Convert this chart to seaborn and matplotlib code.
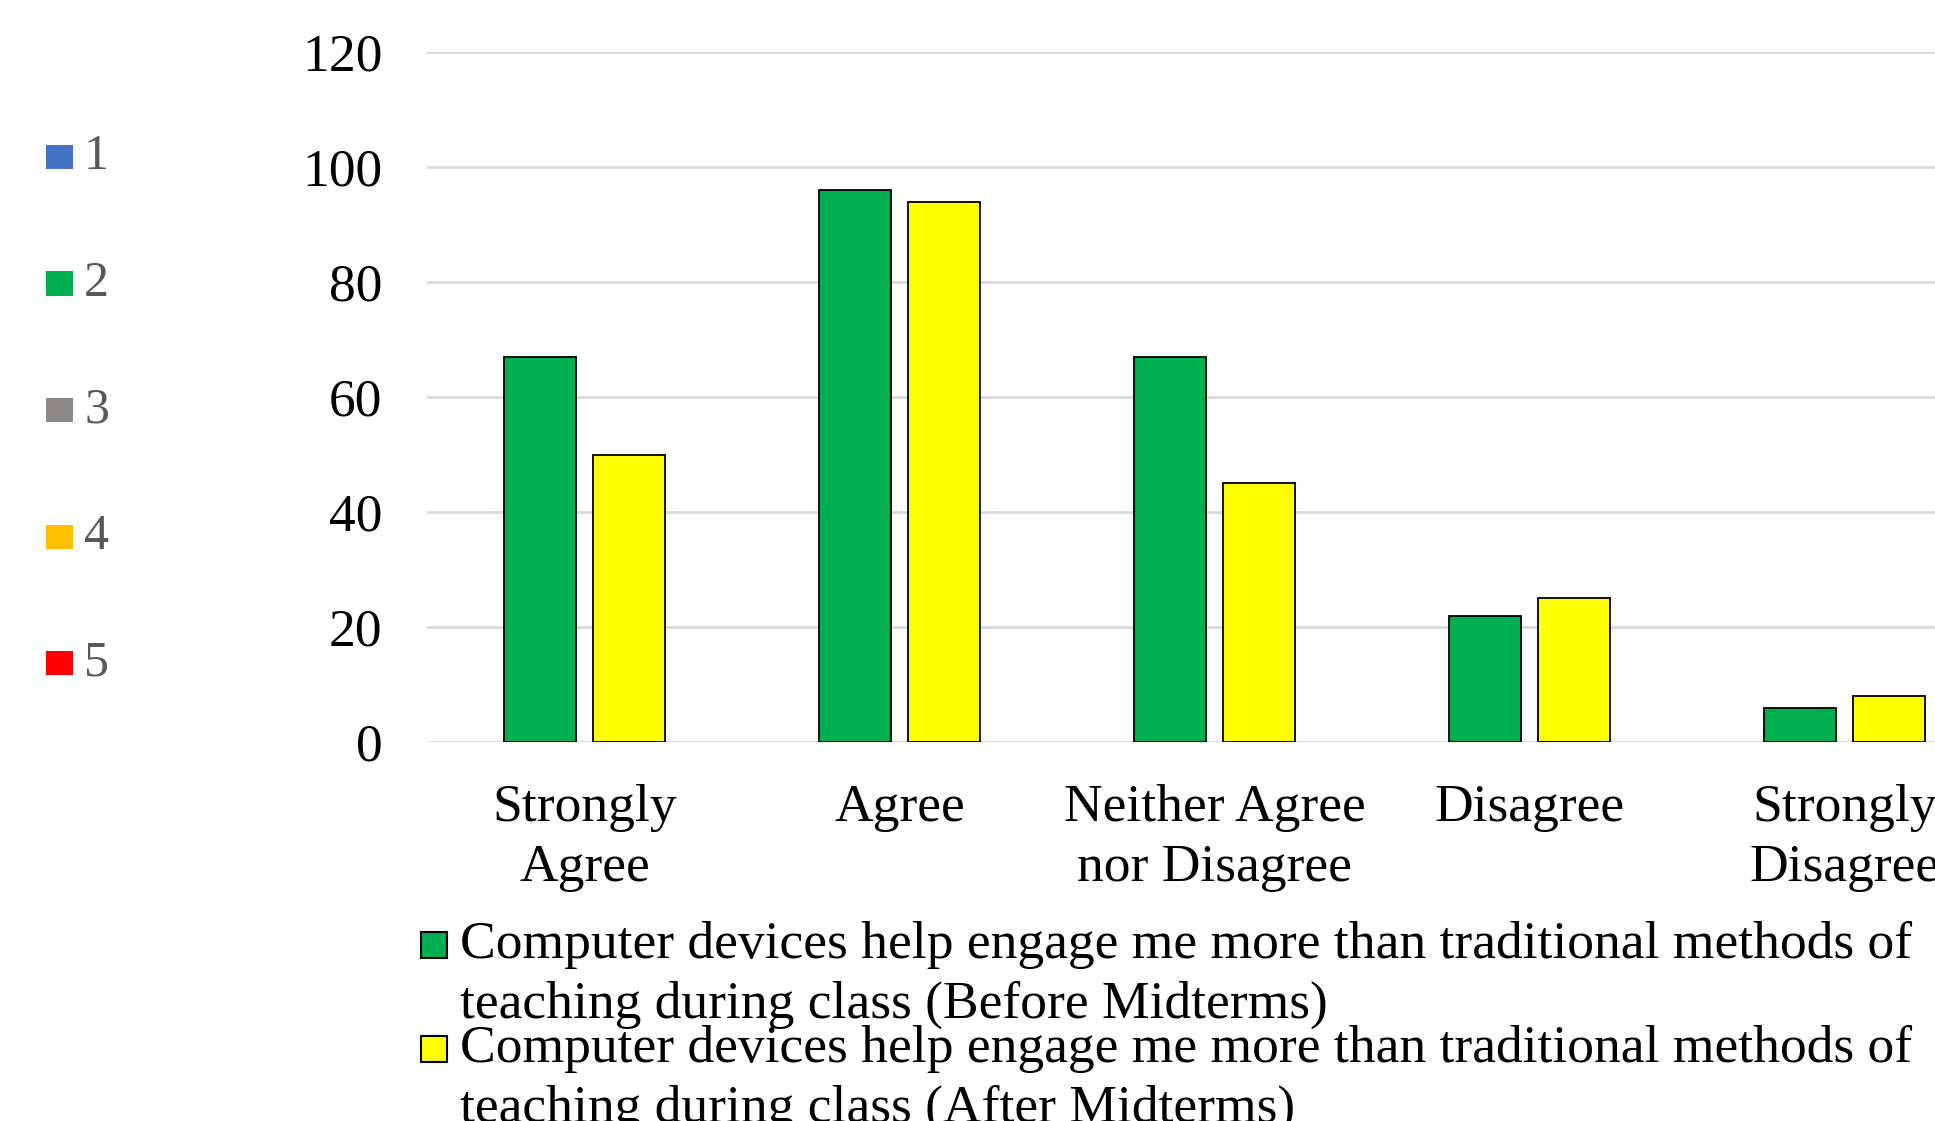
import matplotlib
matplotlib.use("Agg")
import matplotlib.pyplot as plt
import seaborn as sns
import pandas as pd
from matplotlib.patches import Rectangle

categories = ["Strongly\nAgree", "Agree", "Neither Agree\nnor Disagree", "Disagree", "Strongly\nDisagree"]
before = [67, 96, 67, 22, 6]
after = [50, 94, 45, 25, 8]
series_names = [
    "Computer devices help engage me more than traditional methods of\nteaching during class (Before Midterms)",
    "Computer devices help engage me more than traditional methods of\nteaching during class (After Midterms)",
]
series_colors = ["#00B050", "#FFFF00"]
yticks = [0, 20, 40, 60, 80, 100, 120]
side_labels = ["1", "2", "3", "4", "5"]
side_colors = ["#4472C4", "#00B050", "#8B8888", "#FFC000", "#FF0000"]

sns.set_theme(style="white")
plt.rcParams["font.family"] = ["Liberation Serif", "DejaVu Serif"]

df = pd.DataFrame({
    "cat": categories * 2,
    "val": before + after,
    "series": [series_names[0]] * 5 + [series_names[1]] * 5,
})

W, H = 1935, 1121
fig = plt.figure(figsize=(W / 100, H / 100), dpi=100)
ax = fig.add_axes([427 / W, 379 / H, 1575 / W, 690 / H])

sns.barplot(data=df, x="cat", y="val", hue="series", order=categories,
            hue_order=series_names, palette=series_colors, saturation=1,
            width=0.57, gap=0.2,
            edgecolor="black", linewidth=1.3, legend=False, ax=ax, zorder=3)

ax.set_xlim(-0.5, 4.5)
ax.set_ylim(0, 120)
ax.set_yticks(yticks)
ax.set_yticklabels([str(v) for v in yticks])
ax.set_xlabel("")
ax.set_ylabel("")
ax.yaxis.grid(True, color="#D9D9D9", linewidth=2, zorder=0)
ax.xaxis.grid(False)
for s in ax.spines.values():
    s.set_visible(False)
ax.tick_params(axis="both", length=0, labelsize=38.5, colors="black")
ax.tick_params(axis="y", pad=32)
ax.tick_params(axis="x", pad=30)
for lbl in ax.get_xticklabels():
    lbl.set_linespacing(1.32)
    lbl.set_verticalalignment("top")

# Left side legend
for i, (lab, col) in enumerate(zip(side_labels, side_colors)):
    yc = 157 + i * 126.5
    fig.patches.append(Rectangle((46 / W, 1 - (yc + 12) / H), 27 / W, 24 / H,
                                 transform=fig.transFigure, facecolor=col,
                                 edgecolor="none"))
    fig.text(84 / W, 1 - yc / H, lab, fontsize=36, color="#595959",
             ha="left", va="center")

# Bottom legend
entry_tops = [945, 1049]
for name, col, y0 in zip(series_names, series_colors, entry_tops):
    l1, l2 = name.split("\n")
    fig.patches.append(Rectangle((421 / W, 1 - (y0 + 13) / H), 26 / W, 26 / H,
                                 transform=fig.transFigure, facecolor=col,
                                 edgecolor="black", linewidth=1.5))
    fig.text(460 / W, 1 - y0 / H, l1, fontsize=38.5, color="black",
             ha="left", va="center")
    fig.text(460 / W, 1 - (y0 + 60) / H, l2, fontsize=38.5, color="black",
             ha="left", va="center")

fig.savefig("out.png", dpi=100)
